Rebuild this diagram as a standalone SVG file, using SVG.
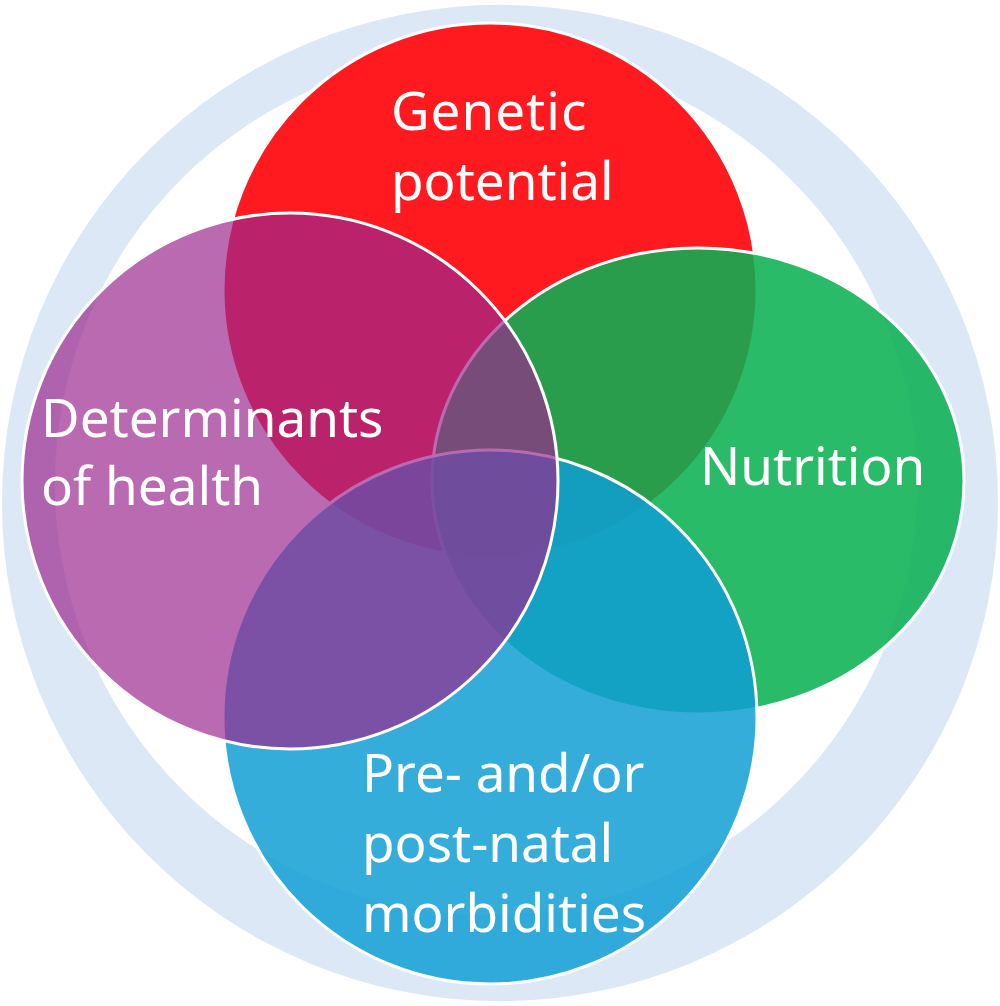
<svg xmlns="http://www.w3.org/2000/svg" width="1000" height="1006" viewBox="0 0 1000 1006">
  <style>
    .node { stroke: #ffffff; stroke-width: 3; }
    .label { fill: #ffffff; font-family: "Noto Sans", "Open Sans", "Liberation Sans", sans-serif; font-size: 53px; }
  </style>
  <rect width="1000" height="1006" fill="#ffffff"/>
  <g id="ring">
    <path fill="#dce8f6" fill-rule="evenodd" d="M 2 503 A 498 498 0 1 0 998 503 A 498 498 0 1 0 2 503 Z M 55 484 A 431 431 0 1 1 917 484 A 431 431 0 1 1 55 484 Z"/>
  </g>
  <g id="connectors"/>
  <g id="genetic-potential">
    <circle class="node" cx="490" cy="290" r="267" fill="#ff1a1f"/>
    <text class="label" x="391" y="130" letter-spacing="1">Genetic</text>
    <text class="label" x="391" y="200">potential</text>
  </g>
  <g id="nutrition">
    <ellipse class="node" cx="698" cy="481" rx="266" ry="233" fill="#0ab153" fill-opacity="0.87"/>
    <text class="label" x="700" y="485">Nutrition</text>
  </g>
  <g id="morbidities">
    <circle class="node" cx="490" cy="717" r="267" fill="#109ed4" fill-opacity="0.845"/>
    <text class="label" x="362" y="792">Pre- and/or</text>
    <text class="label" x="362" y="862">post-natal</text>
    <text class="label" x="362" y="932">morbidities</text>
  </g>
  <g id="determinants-of-health">
    <circle class="node" cx="290" cy="481" r="268" fill="#9b278e" fill-opacity="0.69"/>
    <text class="label" x="41" y="437">Determinants</text>
    <text class="label" x="41" y="505">of health</text>
  </g>
</svg>
